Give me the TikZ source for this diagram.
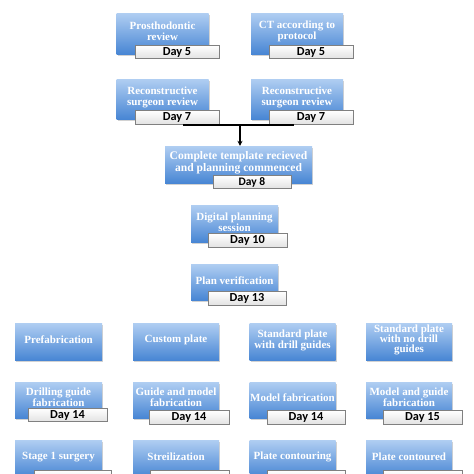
\documentclass[tikz,border=0pt]{standalone}
\usepackage{fontspec}
\setmainfont{Liberation Serif}
\newfontfamily\tagfont{Carlito}
\usetikzlibrary{shadows,backgrounds,arrows.meta}
\definecolor{boxtop}{RGB}{176,206,242}
\definecolor{boxbot}{RGB}{72,134,212}
\definecolor{tagbot}{RGB}{226,226,226}
\definecolor{tagline}{RGB}{128,128,128}
\definecolor{connc}{RGB}{100,100,100}
\tikzset{
  bluebox/.style={rectangle, top color=boxtop, bottom color=boxbot, inner sep=0pt,
    drop shadow={shadow xshift=1pt, shadow yshift=-1.5pt, opacity=0.35}},
  rowbox/.style={bluebox, minimum width=87pt, minimum height=37pt},
  boxtext/.style={text=white, font=\bfseries\fontsize{11}{11}\selectfont,
    align=center, inner sep=0pt},
  daytag/.style={rectangle, draw=tagline, line width=0.8pt, top color=white,
    bottom color=tagbot, font=\tagfont\bfseries\fontsize{12.3}{12}\selectfont,
    inner sep=0pt, minimum height=13.5pt},
  connline/.style={draw=connc, line width=1.1pt},
}
\begin{document}
\begin{tikzpicture}[x=1pt,y=-1pt]
\useasboundingbox (0,0) rectangle (474,474);
\clip (0,0) rectangle (474,474);
\fill[white] (0,0) rectangle (474,474);

% top two columns
\node[bluebox, minimum width=92pt, minimum height=41pt] (pros) at (162.5,33.5) {};
\node[boxtext] (prost) at ([yshift=2pt]pros.center) {Prosthodontic\\review};
\node[bluebox, minimum width=92pt, minimum height=41pt] (ct) at (297,33.5) {};
\node[boxtext] (ctt) at ([yshift=2pt]ct.center) {CT according to\\protocol};
\node[daytag, minimum width=84pt] (d5a) at (177,52) {Day 5};
\node[daytag, minimum width=84pt] (d5b) at (311,52) {Day 5};

\node[bluebox, minimum width=92pt, minimum height=40pt] (reca) at (162.5,99) {};
\node[boxtext] (recat) at ([yshift=2pt]reca.center) {Reconstructive\\surgeon review};
\node[bluebox, minimum width=92pt, minimum height=40pt] (recb) at (297,99) {};
\node[boxtext] (recbt) at ([yshift=2pt]recb.center) {Reconstructive\\surgeon review};
\node[daytag, minimum width=84pt] (d7a) at (177,117.5) {Day 7};
\node[daytag, minimum width=84pt] (d7b) at (311,117.5) {Day 7};

% centre column
\node[bluebox, minimum width=147pt, minimum height=37pt] (comp) at (238.5,164.5) {};
\node[boxtext, font=\bfseries\fontsize{11.6}{11.6}\selectfont] (compt) at ([yshift=2pt]comp.center) {Complete template recieved\\and planning commenced};
\node[daytag, minimum width=78pt, minimum height=12.5pt, font=\tagfont\bfseries\fontsize{11.5}{11}\selectfont] (d8) at (252,182) {Day 8};

\node[bluebox, minimum width=87pt, minimum height=37pt] (dig) at (234.5,223.5) {};
\node[boxtext] (digt) at ([yshift=1.5pt]dig.center) {Digital planning\\session};
\node[daytag, minimum width=79pt] (d10) at (247.5,240.5) {Day 10};

\node[bluebox, minimum width=87pt, minimum height=36pt] (pv) at (234.5,282) {};
\node[boxtext] (pvt) at ([yshift=1pt]pv.center) {Plan verification};
\node[daytag, minimum width=78pt] (d13) at (247,298.5) {Day 13};

% row 1
\node[rowbox] (ra) at (58.5,341.5) {};
\node[boxtext] (rat) at ([yshift=1.5pt]ra.center) {Prefabrication};
\node[rowbox, minimum width=86pt] (rb) at (176,341.5) {};
\node[boxtext] (rbt) at ([yshift=1.5pt]rb.center) {Custom plate};
\node[rowbox, minimum width=86pt] (rc) at (292.5,341.5) {};
\node[boxtext] (rct) at ([yshift=1.5pt]rc.center) {Standard plate\\with drill guides};
\node[rowbox, minimum width=86pt] (rd) at (409,341.5) {};
\node[boxtext, font=\bfseries\fontsize{11}{10.2}\selectfont] (rdt) at ([yshift=1.5pt]rd.center) {Standard plate\\with no drill\\guides};

% row 2
\node[rowbox, minimum height=36pt] (sa) at (58.5,400) {};
\node[boxtext] (sat) at ([yshift=3pt]sa.center) {Drilling guide\\fabrication};
\node[rowbox, minimum width=86pt, minimum height=36pt] (sb) at (176,400) {};
\node[boxtext] (sbt) at ([yshift=2.5pt]sb.center) {Guide and model\\fabrication};
\node[rowbox, minimum width=86pt, minimum height=36pt] (sc) at (292.5,400) {};
\node[boxtext] (sct) at ([yshift=2pt]sc.center) {Model fabrication};
\node[rowbox, minimum width=86pt, minimum height=36pt] (sd) at (409,400) {};
\node[boxtext] (sdt) at ([yshift=2.5pt]sd.center) {Model and guide\\fabrication};
\node[daytag, minimum width=79pt] (ta) at (67.5,415) {Day 14};
\node[daytag, minimum width=80pt] (tb) at (189,417.5) {Day 14};
\node[daytag, minimum width=78pt] (tc) at (306,417.5) {Day 14};
\node[daytag, minimum width=79pt] (td) at (422.5,417.5) {Day 15};

% row 3
\node[rowbox] (ua) at (58.5,458.5) {};
\node[boxtext] (uat) at ([yshift=1.5pt]ua.center) {Stage 1 surgery};
\node[rowbox, minimum width=86pt] (ub) at (176,458.5) {};
\node[boxtext] (ubt) at ([yshift=1.5pt]ub.center) {Streilization};
\node[rowbox, minimum width=86pt] (uc) at (292.5,458.5) {};
\node[boxtext] (uct) at ([yshift=1.5pt]uc.center) {Plate contouring};
\node[rowbox, minimum width=86pt] (ud) at (409,458.5) {};
\node[boxtext] (udt) at ([yshift=1.5pt]ud.center) {Plate contoured};
\node[daytag, minimum width=77pt, minimum height=14pt] (va) at (72.5,477) {};
\node[daytag, minimum width=79pt, minimum height=14pt] (vb) at (189.5,477) {};
\node[daytag, minimum width=78pt, minimum height=14pt] (vc) at (306,477) {};
\node[daytag, minimum width=79pt, minimum height=14pt] (vd) at (422.5,477) {};

% connectors
\coordinate (topa) at (162.5,0);
\coordinate (topb) at (301,0);
\coordinate (jogb) at (301,3.5);
\coordinate (barl) at (183,125);
\coordinate (barr) at (294,125);
\coordinate (barm) at (240,125);
\coordinate (j8a) at (240,197);
\coordinate (bar2) at (234.5,314);

\begin{scope}[on background layer]
  \draw[connline] (topa) -- (pros.north);
  \draw[connline] (topb) -- (jogb) -- (jogb -| ct.north) -- (ct.north);
  \draw[connline] (pros.south) -- (reca.north);
  \draw[connline] (ct.south) -- (recb.north);
  \draw[connline] (d8.south -| j8a) -- (j8a) -- (j8a -| dig.north) -- (dig.north);
  \draw[connline] (dig.south) -- (pv.north);
  \draw[connline] (pv.south) -- (bar2);
  \draw[connline] (ra.north |- bar2) -- (rd.north |- bar2);
  \foreach \r/\s/\u in {ra/sa/ua, rb/sb/ub, rc/sc/uc, rd/sd/ud}{
    \draw[connline] (\r.north |- bar2) -- (\r.north);
    \draw[connline] (\r.south) -- (\s.north);
    \draw[connline] (\s.south) -- (\u.north);
  }
\end{scope}
\draw[line width=1.2pt, black] (barl) -- (barr);
\draw[line width=1.1pt, black, -{Stealth[length=5pt,width=5pt]}] (barm) -- (barm |- comp.north);
\end{tikzpicture}
\end{document}
